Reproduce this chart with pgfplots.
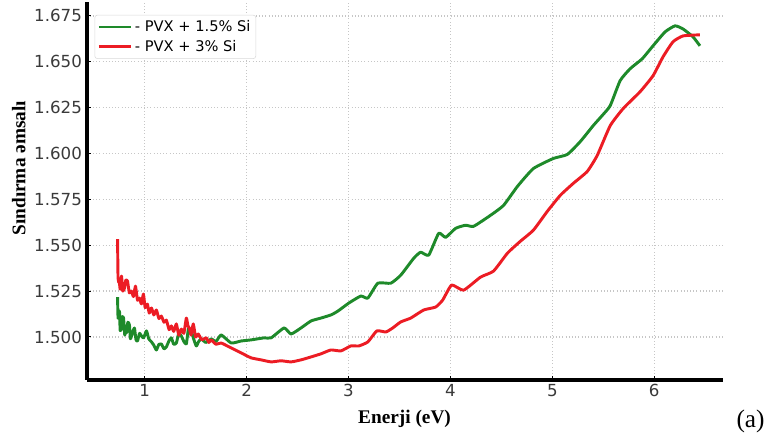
\documentclass[border=0pt]{standalone}
\usepackage{fontspec}
\setmainfont{Liberation Serif}
\newfontfamily\dejavu{DejaVu Sans}
\usepackage{pgfplots}
\pgfplotsset{compat=1.18}
\definecolor{CurveGreen}{HTML}{1E8A2A}
\definecolor{CurveRed}{HTML}{EC1C24}
\definecolor{TickGrey}{HTML}{3A3A3A}

\begin{document}
\begin{tikzpicture}
\begin{axis}[
  scale only axis,
  width=478pt,
  height=284pt,
  xmin=0.43, xmax=6.67,
  ymin=1.4766, ymax=1.6826,
  axis x line*=bottom,
  axis y line*=left,
  axis line style={line width=3pt, -},
  xtick={1,2,3,4,5,6},
  ytick={1.500,1.525,1.550,1.575,1.600,1.625,1.650,1.675},
  yticklabel style={/pgf/number format/.cd, fixed, fixed zerofill, precision=3},
  /pgf/number format/assume math mode=true,
  tick label style={font=\dejavu\fontsize{12.5}{14}\selectfont, text=TickGrey},
  major tick length=3pt,
  tick style={black, line width=0.8pt},
  grid=major,
  major grid style={dotted, gray!45, line width=0.9pt},
  xlabel={\bfseries Enerji (eV)},
  ylabel={\bfseries Sındırma əmsalı},
  label style={font=\fontsize{14.5}{16}\selectfont},
  xlabel style={yshift=-3pt},
  ylabel style={at={(ticklabel cs:0.56)}, inner ysep=9pt, yshift=-6pt},
  legend style={at={(0.0125,0.966)}, anchor=north west, draw=gray!30,
    rounded corners=2pt, fill=white, font=\dejavu\fontsize{11}{13}\selectfont,
    inner sep=2pt, row sep=1pt},
  legend cell align=left,
  legend image code/.code={\draw[#1, line width=2.2pt] (0pt,0pt) -- (24pt,0pt);},
  clip=false,
]
\addplot[CurveGreen, line width=2.2pt, line join=round, smooth, tension=0.3] coordinates {
(0.734,1.5217)(0.739,1.5103)(0.745,1.5120)(0.753,1.5141)(0.760,1.5035)
(0.773,1.5049)(0.780,1.5110)(0.793,1.5103)(0.805,1.5010)(0.815,1.5060)
(0.822,1.5022)(0.835,1.5080)(0.851,1.5065)(0.860,1.4990)(0.871,1.5005)
(0.885,1.5030)(0.900,1.5049)(0.915,1.4985)(0.930,1.4978)(0.950,1.5020)
(0.969,1.5005)(0.990,1.4995)(1.018,1.5033)(1.040,1.4990)(1.067,1.4973)
(1.090,1.4955)(1.115,1.4929)(1.140,1.4960)(1.164,1.4962)(1.190,1.4935)
(1.213,1.4946)(1.240,1.4980)(1.262,1.4995)(1.285,1.4960)(1.311,1.4967)
(1.335,1.5020)(1.360,1.5005)(1.385,1.4975)(1.409,1.4962)(1.430,1.5045)
(1.458,1.5033)(1.480,1.4990)(1.507,1.4951)(1.530,1.4975)(1.556,1.4989)
(1.600,1.4970)(1.654,1.4989)(1.700,1.4975)(1.751,1.5011)
(1.849,1.4967)(1.947,1.4978)(2.045,1.4984)(2.172,1.4995)(2.241,1.4995)
(2.368,1.5049)(2.436,1.5016)(2.534,1.5049)(2.632,1.5087)(2.730,1.5103)
(2.828,1.5120)(2.896,1.5141)(3.004,1.5185)(3.121,1.5223)(3.190,1.5212)
(3.288,1.5293)(3.415,1.5293)(3.513,1.5337)(3.640,1.5429)(3.708,1.5462)
(3.787,1.5446)(3.885,1.5565)(3.953,1.5543)(4.051,1.5592)(4.149,1.5609)
(4.227,1.5603)(4.393,1.5663)(4.521,1.5717)(4.658,1.5821)(4.814,1.5918)
(5.010,1.5973)(5.147,1.5995)(5.274,1.6065)(5.401,1.6152)(5.489,1.6207)
(5.568,1.6261)(5.665,1.6397)(5.763,1.6462)(5.881,1.6516)(5.988,1.6587)
(6.106,1.6663)(6.204,1.6696)(6.282,1.6679)(6.380,1.6636)(6.448,1.6587)
};
\addlegendentry{- PVX + 1.5\% Si}
\addplot[CurveRed, line width=2.2pt, line join=round, smooth, tension=0.3] coordinates {
(0.734,1.5533)(0.737,1.5400)(0.739,1.5321)(0.745,1.5300)(0.753,1.5293)
(0.760,1.5260)(0.773,1.5332)(0.785,1.5250)(0.802,1.5266)(0.815,1.5310)
(0.832,1.5304)(0.850,1.5240)(0.871,1.5250)(0.890,1.5220)(0.910,1.5277)
(0.930,1.5200)(0.949,1.5212)(0.968,1.5180)(0.988,1.5234)(1.005,1.5160)
(1.027,1.5179)(1.045,1.5130)(1.067,1.5158)(1.090,1.5120)(1.115,1.5147)
(1.140,1.5100)(1.164,1.5114)(1.190,1.5080)(1.213,1.5092)(1.240,1.5040)
(1.262,1.5060)(1.285,1.5030)(1.311,1.5071)(1.335,1.5010)(1.360,1.5043)
(1.385,1.5020)(1.409,1.5103)(1.425,1.5060)(1.438,1.5049)(1.455,1.5010)
(1.477,1.5071)(1.500,1.5000)(1.526,1.5016)(1.560,1.4985)(1.605,1.4995)
(1.630,1.4970)(1.654,1.4984)(1.700,1.4960)(1.751,1.4967)
(1.849,1.4940)(1.947,1.4913)(2.045,1.4886)(2.143,1.4875)(2.241,1.4864)
(2.339,1.4870)(2.436,1.4864)(2.534,1.4875)(2.632,1.4891)(2.730,1.4908)
(2.828,1.4929)(2.926,1.4924)(3.023,1.4951)(3.102,1.4951)(3.190,1.4973)
(3.278,1.5033)(3.366,1.5027)(3.434,1.5049)(3.513,1.5082)(3.611,1.5103)
(3.738,1.5147)(3.855,1.5163)(3.924,1.5201)(4.012,1.5283)(4.129,1.5255)
(4.295,1.5326)(4.423,1.5359)(4.560,1.5457)(4.687,1.5522)(4.814,1.5582)
(4.951,1.5685)(5.078,1.5772)(5.205,1.5837)(5.342,1.5902)(5.440,1.5989)
(5.568,1.6152)(5.695,1.6245)(5.861,1.6337)(5.988,1.6424)(6.086,1.6527)
(6.184,1.6609)(6.282,1.6641)(6.448,1.6647)
};
\addlegendentry{- PVX + 3\% Si}
\node[font=\fontsize{19}{21}\selectfont] at (rel axis cs:1.044,-0.11) {(a)};
\end{axis}
\end{tikzpicture}
\end{document}
